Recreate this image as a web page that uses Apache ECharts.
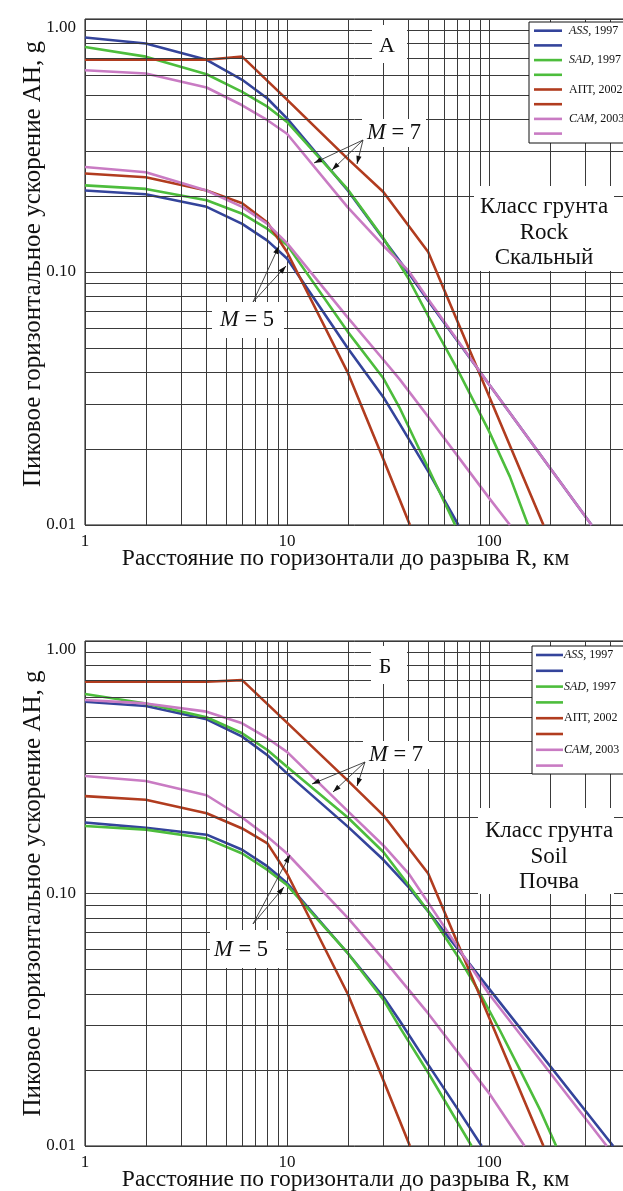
<!DOCTYPE html>
<html>
<head>
<meta charset="utf-8">
<script src="https://cdn.jsdelivr.net/npm/echarts@6/dist/echarts.min.js"></script>
<style>
html,body{margin:0;padding:0;background:#fff;}
#c{width:623px;height:1191px;}
</style>
</head>
<body>
<div id="c"></div>
<script>
// ---- Data: [distance R (km), peak acceleration (g)] ----
// Panel A: Rock
const rockASS7 = [[1,0.845],[2,0.80],[4,0.69],[6,0.575],[8,0.485],[10,0.405],[20,0.21],[30,0.135],[40,0.099],[50,0.077],[100,0.036],[322,0.01]];
const rockSAD7 = [[1,0.775],[2,0.71],[4,0.605],[6,0.515],[8,0.45],[10,0.392],[20,0.212],[30,0.136],[40,0.094],[50,0.067],[70,0.041],[100,0.0235],[127,0.0155],[156,0.01]];
const rockAPT7 = [[1,0.69],[4,0.69],[6,0.71],[10,0.48],[20,0.28],[30,0.207],[50,0.12],[186,0.01]];
const rockCAM7 = [[1,0.627],[2,0.609],[4,0.536],[6,0.456],[8,0.398],[10,0.352],[20,0.18],[30,0.127],[40,0.101],[50,0.078],[100,0.036],[322,0.01]];
const rockASS5 = [[1,0.21],[2,0.203],[4,0.181],[6,0.155],[8,0.133],[10,0.113],[20,0.05],[30,0.032],[36,0.0252],[50,0.0163],[70.5,0.01]];
const rockSAD5 = [[1,0.22],[2,0.213],[4,0.192],[6,0.17],[8,0.148],[10,0.128],[20,0.058],[30,0.038],[36,0.0292],[50,0.0168],[68,0.01]];
const rockAPT5 = [[1,0.245],[2,0.237],[4,0.21],[6,0.187],[8,0.157],[10,0.12],[20,0.04],[30,0.0182],[40.6,0.01]];
const rockCAM5 = [[1,0.26],[2,0.248],[4,0.21],[6,0.181],[8,0.155],[10,0.13],[20,0.066],[30,0.045],[36,0.0378],[50,0.0268],[100,0.0128],[127,0.01]];
// Panel Б: Soil
const soilASS7 = [[1,0.575],[2,0.553],[4,0.49],[6,0.418],[8,0.353],[10,0.299],[20,0.184],[30,0.136],[40,0.106],[50,0.085],[100,0.042],[412,0.01]];
const soilSAD7 = [[1,0.617],[2,0.566],[4,0.499],[6,0.431],[8,0.37],[10,0.318],[20,0.2],[30,0.146],[40,0.108],[50,0.085],[72,0.0545],[90,0.0404],[113,0.0288],[142,0.0201],[179,0.0139],[215,0.01]];
const soilAPT7 = [[1,0.69],[4,0.69],[6,0.70],[10,0.475],[20,0.28],[30,0.204],[50,0.12],[186,0.01]];
const soilCAM7 = [[1,0.584],[2,0.566],[4,0.525],[6,0.472],[8,0.412],[10,0.364],[20,0.212],[30,0.155],[40,0.12],[50,0.092],[100,0.04],[383,0.01]];
const soilASS5 = [[1,0.191],[2,0.182],[4,0.171],[6,0.149],[8,0.128],[10,0.11],[20,0.058],[30,0.039],[36,0.0315],[50,0.021],[70,0.014],[92,0.01]];
const soilSAD5 = [[1,0.185],[2,0.179],[4,0.165],[6,0.144],[8,0.124],[10,0.108],[20,0.058],[30,0.038],[36,0.0297],[50,0.0195],[82,0.01]];
const soilAPT5 = [[1,0.243],[2,0.235],[4,0.208],[6,0.181],[8,0.158],[10,0.12],[20,0.04],[30,0.0182],[40.6,0.01]];
const soilCAM5 = [[1,0.292],[2,0.279],[4,0.245],[6,0.20],[8,0.168],[10,0.144],[20,0.08],[30,0.055],[50,0.0335],[100,0.0162],[150,0.01]];

// Axis ranges, minor grid positions, labels
const X_MIN = 1, X_MAX = 500;
const Y_MIN = 0.01, Y_MAX = 1;
const X_MINOR = [2,3,4,5,6,7,8,9,20,30,40,50,60,70,80,90,200,300,400];
const Y_MINOR = [0.02,0.03,0.04,0.05,0.06,0.07,0.08,0.09,0.2,0.3,0.4,0.5,0.6,0.7,0.8,0.9];
const LEGEND_NAMES = ['{i|ASS}, 1997','{i|SAD}, 1997','АПТ, 2002','{i|CAM}, 2003'];
const MODELS = ['ASS','SAD','APT','CAM'];
const COLORS = {ASS:'#34449b', SAD:'#4dbd3c', APT:'#b13c1f', CAM:'#c97bc3'};
const X_TITLE = 'Расстояние по горизонтали до разрыва R, км';
const Y_TITLE = 'Пиковое горизонтальное ускорение АН, g';

const FONT = '"Liberation Serif", "DejaVu Serif", serif';
const chart = echarts.init(document.getElementById('c'), null, {renderer:'canvas'});

const PANELS = [
  {data:{ASS:[rockASS7,rockASS5],SAD:[rockSAD7,rockSAD5],APT:[rockAPT7,rockAPT5],CAM:[rockCAM7,rockCAM5]}},
  {data:{ASS:[soilASS7,soilASS5],SAD:[soilSAD7,soilSAD5],APT:[soilAPT7,soilAPT5],CAM:[soilCAM7,soilCAM5]}}
];

const plotW = 202 * Math.log10(X_MAX / X_MIN);
const grids = [
  {left:85, top:19, width:plotW, height:506, show:true, borderColor:'#111', borderWidth:1, outerBoundsMode:'none', containLabel:false},
  {left:85, top:641, width:plotW, height:505, show:true, borderColor:'#111', borderWidth:1, outerBoundsMode:'none', containLabel:false}
];
const gridLine = {show:true, lineStyle:{color:'#3a3a3a', width:1}};
const xAxes = grids.map((g,i)=>({
  type:'log', logBase:10, gridIndex:i, min:X_MIN, max:X_MAX,
  axisLine:{show:false}, axisTick:{show:false}, splitLine:gridLine,
  axisLabel:{fontFamily:FONT, fontSize:17, color:'#111', margin:8, showMaxLabel:false},
  name:X_TITLE, nameLocation:'middle', nameGap:22, nameMoveOverlap:false,
  nameTextStyle:{fontFamily:FONT, fontSize:23.5, color:'#111', padding:[0,24,0,0]}
}));
const yAxes = grids.map((g,i)=>({
  type:'log', logBase:10, gridIndex:i, min:Y_MIN, max:Y_MAX,
  axisLine:{show:false}, axisTick:{show:false}, splitLine:gridLine,
  axisLabel:{fontFamily:FONT, fontSize:17, color:'#111', margin:9, formatter:v=>v.toFixed(2), verticalAlignMaxLabel:'top'},
  name:Y_TITLE, nameLocation:'middle', nameGap:39, nameRotate:90, nameMoveOverlap:false,
  nameTextStyle:{fontFamily:FONT, fontSize:25, color:'#111', padding: i===0 ? [0,0,0,16] : 0}
}));

const series = [];
PANELS.forEach((p,i)=>{
  series.push({
    type:'line', xAxisIndex:i, yAxisIndex:i, data:[], z:1, silent:true,
    markLine:{silent:true, symbol:'none', animation:false, label:{show:false},
      lineStyle:{color:'#3a3a3a', width:1, type:'solid'},
      data: X_MINOR.map(v=>({xAxis:v})).concat(Y_MINOR.map(v=>({yAxis:v})))}
  });
  MODELS.forEach(m=>{
    p.data[m].forEach((d,k)=>{
      series.push({type:'line', name:m+(k?'5':'7'), xAxisIndex:i, yAxisIndex:i, data:d, z:3,
        symbol:'none', smooth:false, clip:true, animation:false,
        lineStyle:{color:COLORS[m], width:2.6}});
    });
  });
});

// ---- Annotations ----
const G = [];
function box(x,y,w,h,border){ G.push({type:'rect', z:50, shape:{x,y,width:w,height:h}, style:{fill:'#fff', stroke:border?'#111':null, lineWidth:1}}); }
function txt(t,x,y,size,align){ G.push({type:'text', z:60, style:{text:t, x, y, fill:'#111', font:size+'px '+FONT, fontSize:size, fontFamily:FONT,
  align:align||'center', verticalAlign:'middle', textAlign:align||'center', textVerticalAlign:'middle',
  rich:{i:{fontStyle:'italic', fontSize:size, fontFamily:FONT, fill:'#111'}}}}); }
function arrow(x1,y1,x2,y2){
  G.push({type:'line', z:55, shape:{x1,y1,x2,y2}, style:{stroke:'#333', lineWidth:0.9}});
  const a=Math.atan2(y2-y1,x2-x1), L=8, W=2.6;
  const bx=x2-L*Math.cos(a), by=y2-L*Math.sin(a);
  G.push({type:'polygon', z:56, shape:{points:[[x2,y2],[bx+W*Math.sin(a),by-W*Math.cos(a)],[bx-W*Math.sin(a),by+W*Math.cos(a)]]}, style:{fill:'#111'}});
}
function legend(x0,y0,h,row0,step,lx1,lx2,tx){
  box(x0,y0,660-x0,h,true);
  MODELS.forEach((m,k)=>{
    const r1=row0+step*2*k, r2=r1+step;
    [r1,r2].forEach(r=>G.push({type:'line', z:55, shape:{x1:lx1,y1:r,x2:lx2,y2:r}, style:{stroke:COLORS[m], lineWidth:2.6}}));
    txt(LEGEND_NAMES[k], tx, r1, 12, 'left');
  });
}
// Panel A
box(372,25,35,38); txt('А',387,46,22);
box(362,119,64,28); txt('{i|M} = 7',394,133,22.5);
arrow(363,140,314,163); arrow(363,140,332,170); arrow(363,140,357,164);
box(212,302,72,36); txt('{i|M} = 5',247,320,22.5);
arrow(253,302,279,246); arrow(253,302,286,266);
box(474,186,140,85); txt('Класс грунта',544,207,23); txt('Rock',544,233,23); txt('Скальный',544,258,23);
legend(529,22,121,30.7,14.7,534,562,569);
// Panel Б
box(371,646,36,38); txt('Б',385,667,22);
box(363,741,66,28); txt('{i|M} = 7',396,755,22.5);
arrow(365,762,312,784); arrow(365,762,333,792); arrow(365,762,357,786);
box(210,930,76,38); txt('{i|M} = 5',241,950,22.5);
arrow(253,924,290,855); arrow(253,924,284,887);
box(478,808,136,86); txt('Класс грунта',549,831,23); txt('Soil',549,857,23); txt('Почва',549,882,23);
legend(532,646,128,655,15.8,536,563,564);

chart.setOption({
  animation:false,
  backgroundColor:'#fff',
  grid:grids, xAxis:xAxes, yAxis:yAxes, series,
  graphic:{elements:G}
});
</script>
</body>
</html>
